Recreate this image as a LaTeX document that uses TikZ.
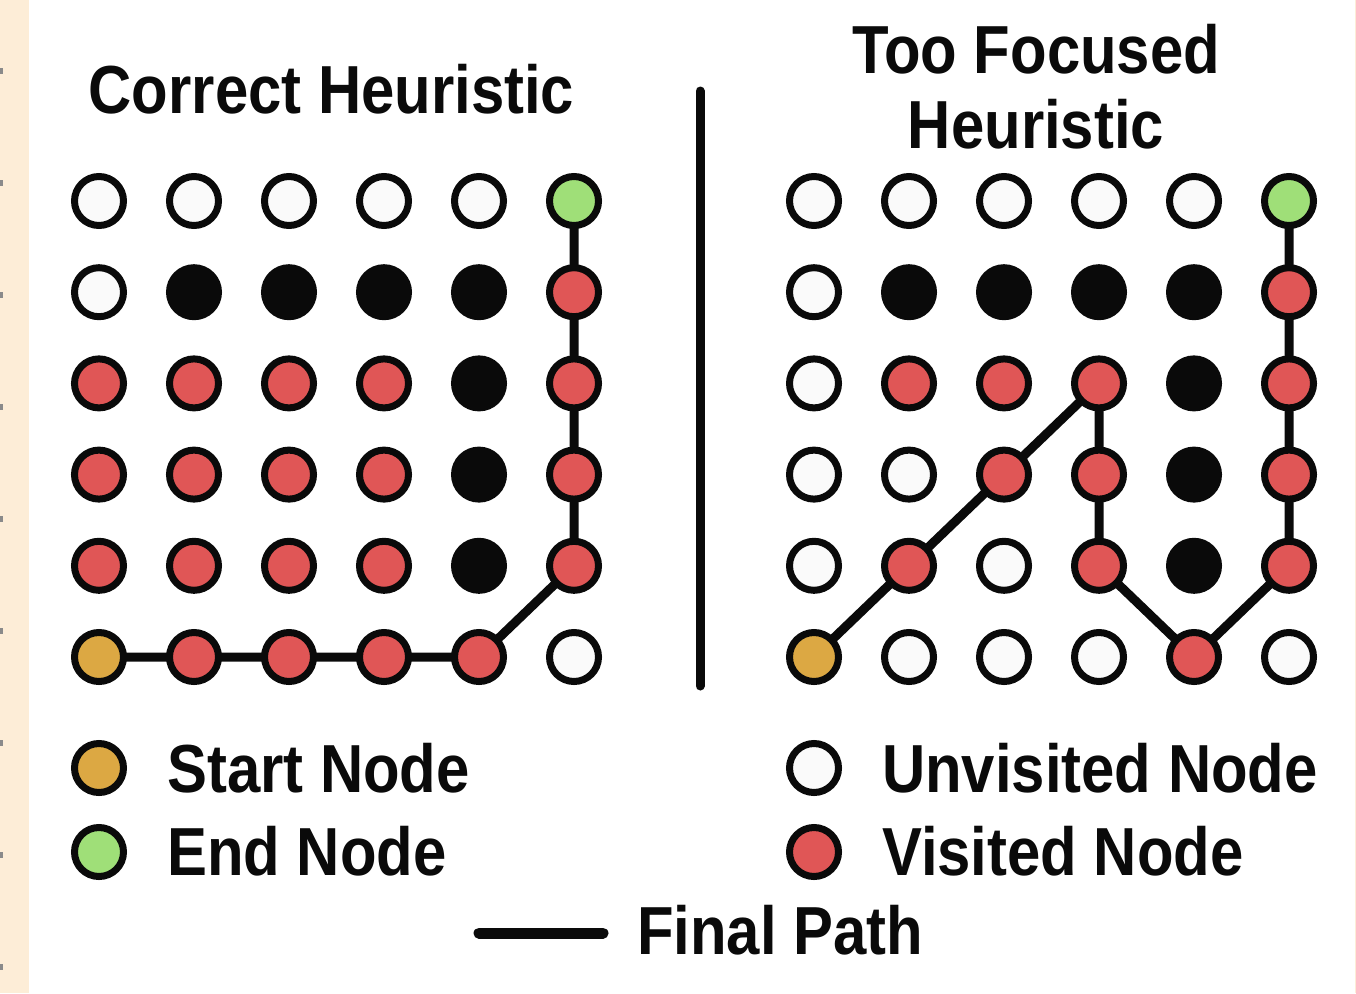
\documentclass[tikz,border=0pt]{standalone}
\usepackage{fontspec}
\newfontfamily\labelfont{Liberation Sans Bold}[FakeStretch=0.88]
\usetikzlibrary{backgrounds}

\definecolor{ink}{HTML}{0A0A0A}
\definecolor{free}{HTML}{FAFAFA}
\definecolor{seen}{HTML}{E05656}
\definecolor{wall}{HTML}{0A0A0A}
\definecolor{startc}{HTML}{DCA843}
\definecolor{goalc}{HTML}{9FDF78}
\definecolor{strip}{HTML}{FDEDD7}
\definecolor{tick}{HTML}{8A8A8A}

\tikzset{
  cell/.style={circle, draw=ink, line width=7pt, minimum size=49pt, inner sep=0pt},
  route/.style={draw=ink, line width=9pt, line join=round, line cap=round},
  label/.style={inner sep=0pt, font=\labelfont\fontsize{68}{68}\selectfont, text=ink},
}

% one row of a 6x6 grid: #1 prefix, #2 left x, #3 row index, #4 fill colours
\newcommand\cellrow[4]{%
  \foreach \t [count=\c from 0] in {#4} {%
    \node[cell, fill=\t] (#1-\c-#3) at ({#2+95*\c}, {201+91.2*#3}) {};
  }%
}

\begin{document}
\begin{tikzpicture}[x=1pt, y=-1pt]
\useasboundingbox (0,0) rectangle (1356,993);

% page margin strip with ruler ticks
\fill[strip] (0,0) rectangle (29,993);
\fill[strip] (1355,0) rectangle (1356,993);
\foreach \k in {0,...,8} \fill[tick] (0,{68+112*\k}) rectangle (2.5,{74+112*\k});

% titles
\node[label, anchor=base] (tl) at (331.5,113) {Correct Heuristic};
\node[label, anchor=base] (tr1) at (1036,73) {Too Focused};
\node[label, anchor=base] (tr2) at (1036,148) {Heuristic};

% divider
\coordinate (dtop) at (700,91);
\coordinate (dbot) at (700,686);
\draw[route] (dtop) -- (dbot);

% left grid
\cellrow{L}{99}{0}{free,free,free,free,free,goalc}
\cellrow{L}{99}{1}{free,wall,wall,wall,wall,seen}
\cellrow{L}{99}{2}{seen,seen,seen,seen,wall,seen}
\cellrow{L}{99}{3}{seen,seen,seen,seen,wall,seen}
\cellrow{L}{99}{4}{seen,seen,seen,seen,wall,seen}
\cellrow{L}{99}{5}{startc,seen,seen,seen,seen,free}

% right grid
\cellrow{R}{814}{0}{free,free,free,free,free,goalc}
\cellrow{R}{814}{1}{free,wall,wall,wall,wall,seen}
\cellrow{R}{814}{2}{free,seen,seen,seen,wall,seen}
\cellrow{R}{814}{3}{free,free,seen,seen,wall,seen}
\cellrow{R}{814}{4}{free,seen,free,seen,wall,seen}
\cellrow{R}{814}{5}{startc,free,free,free,seen,free}

% final paths behind the cells
\begin{scope}[on background layer]
  \draw[route] (L-0-5.center) -- (L-1-5.center) -- (L-2-5.center) -- (L-3-5.center)
    -- (L-4-5.center) -- (L-5-4.center) -- (L-5-3.center) -- (L-5-2.center)
    -- (L-5-1.center) -- (L-5-0.center);
  \draw[route] (R-0-5.center) -- (R-1-4.center) -- (R-2-3.center) -- (R-3-2.center)
    -- (R-3-3.center) -- (R-3-4.center) -- (R-4-5.center) -- (R-5-4.center)
    -- (R-5-3.center) -- (R-5-2.center) -- (R-5-1.center) -- (R-5-0.center);
\end{scope}

% legend
\node[cell, fill=startc] (ks) at (99,768) {};
\node[cell, fill=goalc] (ke) at (99,852) {};
\node[cell, fill=free] (ku) at (814,768) {};
\node[cell, fill=seen] (kv) at (814,852) {};
\node[label, anchor=base west] (ts) at (167,792) {Start Node};
\node[label, anchor=base west] (te) at (167,875) {End Node};
\node[label, anchor=base west] (tu) at (882,792) {Unvisited Node};
\node[label, anchor=base west] (tv) at (882,875) {Visited Node};
\coordinate (pa) at (479,933);
\coordinate (pb) at (603,933);
\draw[route, line width=11pt] (pa) -- (pb);
\node[label, anchor=base west] (tp) at (637,954) {Final Path};
\end{tikzpicture}
\end{document}
